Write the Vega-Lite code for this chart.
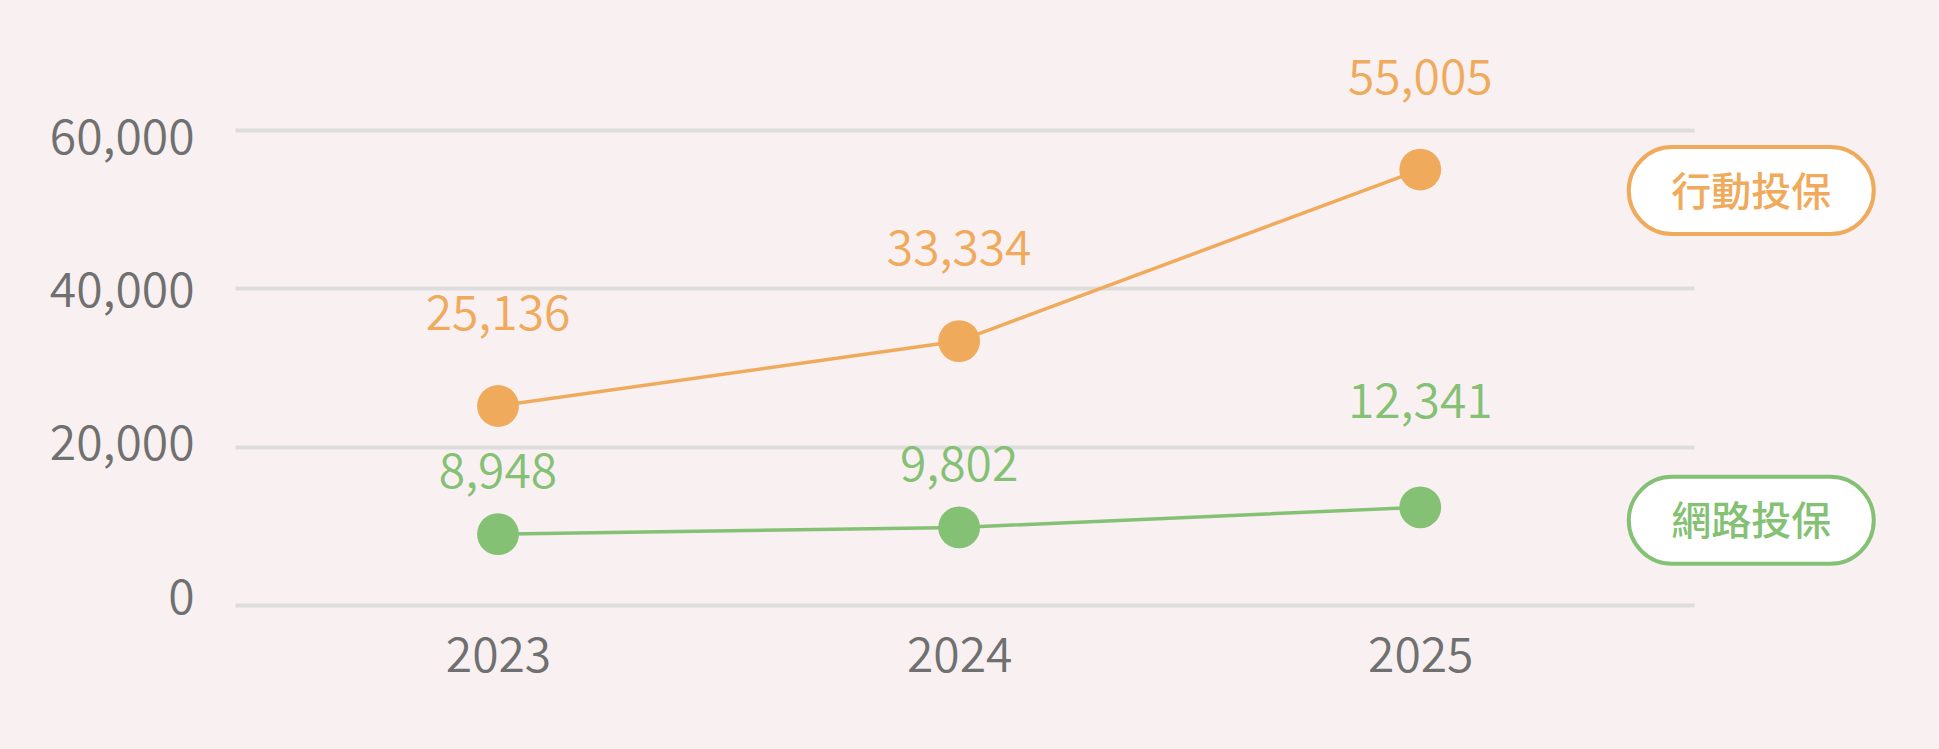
{
  "$schema": "https://vega.github.io/schema/vega-lite/v6.json",
  "width": 1459,
  "height": 475,
  "autosize": {"type": "none"},
  "padding": {"left": 235, "top": 130, "right": 245, "bottom": 144},
  "background": "#F9F0F1",
  "config": {"view": {"stroke": null}, "font": "Noto Sans CJK TC"},
  "data": {
    "values": [
      {"year": "2023", "series": "行動投保", "value": 25136},
      {"year": "2024", "series": "行動投保", "value": 33334},
      {"year": "2025", "series": "行動投保", "value": 55005},
      {"year": "2023", "series": "網路投保", "value": 8948},
      {"year": "2024", "series": "網路投保", "value": 9802},
      {"year": "2025", "series": "網路投保", "value": 12341}
    ]
  },
  "encoding": {
    "x": {
      "field": "year",
      "type": "ordinal",
      "scale": {"type": "point", "padding": 0.582, "align": 0.49},
      "axis": {
        "title": null,
        "domain": false,
        "ticks": false,
        "grid": false,
        "labelAngle": 0,
        "labelFontSize": 48,
        "labelFontWeight": 350,
        "labelColor": "#707070",
        "labelPadding": 28
      }
    },
    "y": {
      "field": "value",
      "type": "quantitative",
      "scale": {"domain": [0, 60000]},
      "axis": {
        "title": null,
        "domain": false,
        "ticks": false,
        "values": [0, 20000, 40000, 60000],
        "format": ",d",
        "gridColor": "#DDDDDD",
        "gridWidth": 4,
        "labelFontSize": 48,
        "labelFontWeight": 350,
        "labelColor": "#707070",
        "labelPadding": 41,
        "labelBaseline": "middle",
        "labelOffset": {"expr": "-6 + 15 * datum.value / 60000"}
      }
    },
    "color": {
      "field": "series",
      "type": "nominal",
      "scale": {"domain": ["行動投保", "網路投保"], "range": ["#F0AA5C", "#85C175"]},
      "legend": null
    }
  },
  "layer": [
    {"mark": {"type": "line", "strokeWidth": 3.5}},
    {"mark": {"type": "point", "filled": true, "size": 1750, "opacity": 1}},
    {
      "transform": [{"filter": "datum.series === '行動投保'"}],
      "mark": {"type": "text", "dy": -90, "fontSize": 48, "fontWeight": 350, "baseline": "middle"},
      "encoding": {"text": {"field": "value", "type": "quantitative", "format": ",d"}}
    },
    {
      "transform": [{"filter": "datum.series === '網路投保' && datum.year !== '2025'"}],
      "mark": {"type": "text", "dy": -60, "fontSize": 48, "fontWeight": 350, "baseline": "middle"},
      "encoding": {"text": {"field": "value", "type": "quantitative", "format": ",d"}}
    },
    {
      "transform": [{"filter": "datum.series === '網路投保' && datum.year === '2025'"}],
      "mark": {"type": "text", "dy": -103, "fontSize": 48, "fontWeight": 350, "baseline": "middle"},
      "encoding": {"text": {"field": "value", "type": "quantitative", "format": ",d"}}
    },
    {
      "transform": [{"filter": "datum.series === '行動投保' && datum.year === '2025'"}],
      "mark": {
        "type": "point",
        "shape": "M -0.645 -0.355 L 0.645 -0.355 A 0.355 0.355 0 0 1 0.645 0.355 L -0.645 0.355 A 0.355 0.355 0 0 1 -0.645 -0.355 Z",
        "size": 60025,
        "filled": false,
        "fill": "white",
        "fillOpacity": 1,
        "opacity": 1,
        "strokeWidth": 4,
        "xOffset": 331,
        "yOffset": 21
      }
    },
    {
      "transform": [{"filter": "datum.series === '行動投保' && datum.year === '2025'"}],
      "mark": {"type": "text", "dx": 331, "dy": 24, "fontSize": 40, "fontWeight": 500, "baseline": "middle"},
      "encoding": {"text": {"field": "series", "type": "nominal"}}
    },
    {
      "transform": [{"filter": "datum.series === '網路投保' && datum.year === '2025'"}],
      "mark": {
        "type": "point",
        "shape": "M -0.645 -0.355 L 0.645 -0.355 A 0.355 0.355 0 0 1 0.645 0.355 L -0.645 0.355 A 0.355 0.355 0 0 1 -0.645 -0.355 Z",
        "size": 60025,
        "filled": false,
        "fill": "white",
        "fillOpacity": 1,
        "opacity": 1,
        "strokeWidth": 4,
        "xOffset": 331,
        "yOffset": 13
      }
    },
    {
      "transform": [{"filter": "datum.series === '網路投保' && datum.year === '2025'"}],
      "mark": {"type": "text", "dx": 331, "dy": 16, "fontSize": 40, "fontWeight": 500, "baseline": "middle"},
      "encoding": {"text": {"field": "series", "type": "nominal"}}
    }
  ]
}
